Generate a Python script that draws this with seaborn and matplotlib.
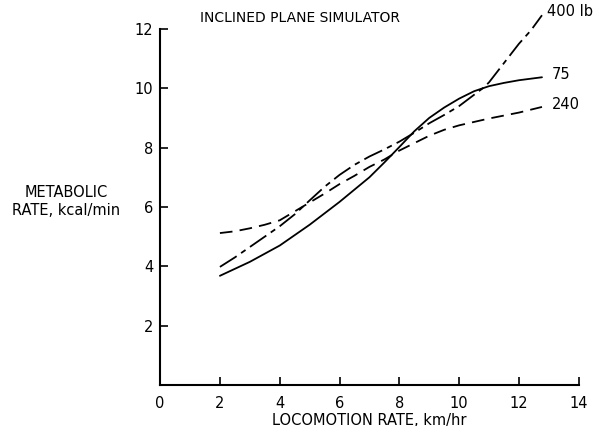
import matplotlib
matplotlib.use("Agg")
import matplotlib.pyplot as plt
import seaborn as sns
import pandas as pd

# curve values (x in km/hr, y in kcal/min)
x_75 = [2, 3, 4, 5, 6, 7, 7.5, 8, 8.5, 9, 9.5, 10, 10.5, 11, 11.5, 12, 12.77]
y_75 = [3.68, 4.15, 4.7, 5.4, 6.17, 7.0, 7.5, 8.02, 8.55, 9.0, 9.35, 9.65, 9.9, 10.07, 10.18, 10.27, 10.37]

x_240 = [2, 2.5, 3, 3.5, 4, 4.5, 5, 5.5, 6, 6.5, 7, 7.5, 8, 8.5, 9, 9.5, 10, 11, 12, 12.77]
y_240 = [5.12, 5.18, 5.28, 5.4, 5.55, 5.85, 6.15, 6.45, 6.77, 7.05, 7.35, 7.6, 7.9, 8.15,
         8.4, 8.6, 8.75, 8.98, 9.18, 9.37]

x_400 = [2, 2.5, 3, 3.5, 4, 4.5, 5, 5.5, 6, 6.5, 7, 7.5, 8, 8.5, 9, 9.5, 10, 10.5,
         10.83, 11, 11.5, 12, 12.4, 12.77]
y_400 = [3.98, 4.3, 4.65, 5.0, 5.35, 5.75, 6.22, 6.68, 7.08, 7.42, 7.7, 7.94, 8.2, 8.5,
         8.82, 9.1, 9.4, 9.78, 10.03, 10.2, 10.85, 11.5, 11.95, 12.46]

x_ticks = [0, 2, 4, 6, 8, 10, 12, 14]
y_ticks = [2, 4, 6, 8, 10, 12]

sns.set_style("ticks")
plt.rcParams['font.family'] = ['Liberation Sans Narrow', 'DejaVu Sans']
plt.rcParams['text.color'] = 'black'
plt.rcParams['xtick.color'] = 'black'
plt.rcParams['ytick.color'] = 'black'
plt.rcParams['axes.labelcolor'] = 'black'
plt.rcParams['axes.edgecolor'] = 'black'

fig = plt.figure(figsize=(5.93, 4.26), dpi=100)
ax = fig.add_axes([0.27, 0.0962, 0.706, 0.836])

d75 = pd.DataFrame({'x': x_75, 'y': y_75})
d240 = pd.DataFrame({'x': x_240, 'y': y_240})
d400 = pd.DataFrame({'x': x_400, 'y': y_400})

sns.lineplot(data=d75, x='x', y='y', ax=ax, color='black', lw=1.3,
             sort=False, estimator=None)
l240 = sns.lineplot(data=d240, x='x', y='y', ax=ax, color='black', lw=1.3,
                    sort=False, estimator=None).lines[-1]
l240.set_dashes((7, 4))
l400 = sns.lineplot(data=d400, x='x', y='y', ax=ax, color='black', lw=1.3,
                    sort=False, estimator=None).lines[-1]
l400.set_dashes((11, 3, 3, 3))
for ln in ax.lines:
    ln.set_clip_on(False)

# curve labels
ax.text(12.95, 12.6, '400 lb', fontsize=10.5, va='center', ha='left')
ax.text(13.1, 10.45, '75', fontsize=10.5, va='center', ha='left')
ax.text(13.1, 9.45, '240', fontsize=10.5, va='center', ha='left')

ax.text(1.35, 12.35, 'INCLINED PLANE SIMULATOR', fontsize=10, va='center', ha='left')

ax.set_xlim(0, 14)
ax.set_ylim(0, 12)
ax.set_xticks(x_ticks)
ax.set_yticks(y_ticks)
ax.tick_params(direction='in', length=6, width=1.2, labelsize=10.5, pad=5)
ax.tick_params(axis='x', pad=8)
ax.xaxis.get_major_ticks()[0].tick1line.set_visible(False)

ax.set_xlabel('LOCOMOTION RATE, km/hr', fontsize=10.5, labelpad=1)
ax.set_ylabel('METABOLIC\nRATE, kcal/min', fontsize=10.5, rotation=0,
              ha='center', va='center')
ax.yaxis.set_label_coords(-0.225, 0.515)

sns.despine(ax=ax)
for s in ['left', 'bottom']:
    ax.spines[s].set_linewidth(1.5)

fig.savefig('out.png', dpi=100)
